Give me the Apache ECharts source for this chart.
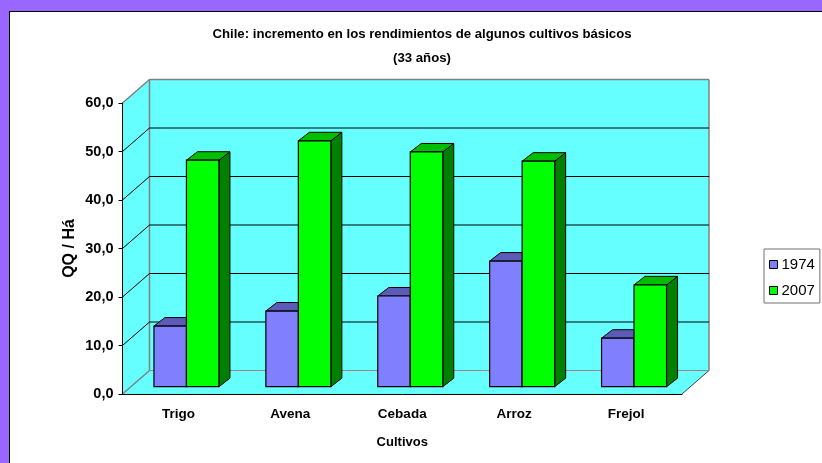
<!DOCTYPE html>
<html>
<head>
<meta charset="utf-8">
<script src="https://cdn.jsdelivr.net/npm/echarts@6/dist/echarts.min.js"></script>
<style>
  html, body { margin: 0; padding: 0; width: 822px; height: 463px; overflow: hidden; background: #9966ff; }
  #frame { position: absolute; left: 9px; top: 11px; right: 0; bottom: 0; background: #fff; border-left: 1px solid #000; border-top: 1px solid #000; }
  #main { position: absolute; left: 0; top: 0; width: 822px; height: 463px; }
</style>
</head>
<body>
<div id="frame"></div>
<div id="main"></div>
<script>
const categories = ['Trigo', 'Avena', 'Cebada', 'Arroz', 'Frejol'];
const values1974 = [12.5, 15.6, 18.7, 25.9, 10.0];
const values2007 = [46.7, 50.7, 48.4, 46.5, 21.0];
const yTicks = [0, 10, 20, 30, 40, 50, 60];

const fontName = '"Liberation Sans", Arial, sans-serif';
// profundidad del grafico 3D, en pixeles
const depthX = 27;
const depthY = 23.5;
const barDepthX = 11;
const barDepthY = 8.5;
const barBaseX = 8;
const barBaseY = 7.3;
const barWidth = 32.5;

const myChart = echarts.init(document.getElementById('main'), null, { renderer: 'canvas' });

function poly(points, fill, stroke, lineWidth) {
  return {
    type: 'polygon',
    shape: { points: points },
    style: { fill: fill, stroke: stroke || null, lineWidth: lineWidth || 0 }
  };
}
function line(x1, y1, x2, y2, color, width) {
  return {
    type: 'line',
    shape: { x1: x1, y1: y1, x2: x2, y2: y2 },
    style: { stroke: color, lineWidth: width }
  };
}

// paredes y piso
function renderWalls(params) {
  const g = params.coordSys;
  const l = g.x, t = g.y, r = g.x + g.width, b = g.y + g.height;
  const wall = '#66ffff';
  return {
    type: 'group',
    children: [
      poly([[l + depthX, t - depthY], [r + depthX, t - depthY], [r + depthX, b - depthY], [l + depthX, b - depthY]], wall),
      poly([[l, t], [l + depthX, t - depthY], [l + depthX, b - depthY], [l, b]], wall),
      poly([[l, b], [l + depthX, b - depthY], [r + depthX, b - depthY], [r, b]], wall),
      line(l + depthX, t - depthY, l + depthX, b - depthY, '#808080', 1.5),
      line(l + depthX, t - depthY, r + depthX, t - depthY, '#808080', 1.5),
      line(r + depthX, t - depthY, r + depthX, b - depthY, '#808080', 1.5),
      line(l, t, l + depthX, t - depthY, '#808080', 1.5),
      line(l, b, l + depthX, b - depthY, '#808080', 1.5),
      line(r, b, r + depthX, b - depthY, '#404040', 1)
    ]
  };
}

// lineas de division en la pared
function renderGridLine(params, api) {
  const g = params.coordSys;
  const v = api.value(0);
  if (v === yTicks[yTicks.length - 1]) return;
  const y = api.coord([0, v])[1];
  const left = g.x, right = g.x + g.width;
  if (v === 0) {
    return line(left + depthX, y - depthY, right + depthX, y - depthY, '#a08484', 1.2);
  }
  return {
    type: 'group',
    children: [
      line(left, y, left + depthX, y - depthY, '#000', 1),
      line(left + depthX, y - depthY, right + depthX, y - depthY, '#000', 1)
    ]
  };
}

function barRenderer(seriesIndex, front, top, side) {
  return function (params, api) {
    const base = api.coord([api.value(0), 0]);
    const head = api.coord([api.value(0), api.value(1)]);
    const x0 = base[0] + barBaseX + (seriesIndex - 1) * barWidth;
    const x1 = x0 + barWidth;
    const yb = base[1] - barBaseY;
    const yt = head[1] - barBaseY;
    const dx = barDepthX, dy = barDepthY;
    return {
      type: 'group',
      children: [
        poly([[x1, yb], [x1 + dx, yb - dy], [x1 + dx, yt - dy], [x1, yt]], side, '#000', 1),
        poly([[x0, yt], [x0 + dx, yt - dy], [x1 + dx, yt - dy], [x1, yt]], top, '#000', 1),
        poly([[x0, yb], [x1, yb], [x1, yt], [x0, yt]], front, '#000', 1.2)
      ]
    };
  };
}

const axisText = { color: '#000', fontFamily: fontName, fontWeight: 'bold', fontSize: 13.5 };

const option = {
  animation: false,
  backgroundColor: 'transparent',
  title: {
    text: 'Chile: incremento en los rendimientos de algunos cultivos básicos\n(33 años)',
    left: 417,
    top: 17,
    textAlign: 'center',
    textStyle: { color: '#000', fontFamily: fontName, fontWeight: 'bold', fontSize: 13.2, lineHeight: 24 }
  },
  legend: {
    data: ['1974', '2007'],
    orient: 'vertical',
    left: 764,
    top: 249,
    padding: [7, 5, 4, 5],
    itemWidth: 8,
    itemHeight: 8,
    itemGap: 9,
    borderColor: '#707070',
    borderWidth: 1,
    backgroundColor: '#fff',
    selectedMode: false,
    icon: 'rect',
    itemStyle: { borderColor: '#000', borderWidth: 1 },
    textStyle: { color: '#000', fontFamily: fontName, fontSize: 15, lineHeight: 17, padding: [0, 0, 0, -1] }
  },
  grid: { left: 122.5, top: 103, width: 559.5, height: 291 },
  xAxis: {
    type: 'category',
    data: categories,
    z: 5,
    name: 'Cultivos',
    nameLocation: 'middle',
    nameGap: 42,
    nameTextStyle: Object.assign({}, axisText, { fontSize: 13 }),
    axisLine: { lineStyle: { color: '#000', width: 1 } },
    axisTick: { length: 4, lineStyle: { color: '#404040' } },
    axisLabel: Object.assign({}, axisText, { margin: 13, fontSize: 13.5 })
  },
  yAxis: {
    type: 'value',
    min: 0,
    max: 60,
    interval: 10,
    z: 5,
    name: 'QQ / Há',
    nameLocation: 'middle',
    nameRotate: 90,
    nameGap: 45,
    nameMoveOverlap: false,
    nameTextStyle: Object.assign({}, axisText, { fontSize: 16 }),
    axisLine: { show: true, lineStyle: { color: '#000', width: 1 } },
    axisTick: { show: true, length: 4, lineStyle: { color: '#000' } },
    splitLine: { show: false },
    axisLabel: Object.assign({}, axisText, {
      margin: 9,
      fontSize: 14.5,
      formatter: function (v) { return v.toFixed(1).replace('.', ','); }
    })
  },
  series: [
    { type: 'custom', name: 'paredes', silent: true, z: 1, clip: false, data: [[0]], renderItem: renderWalls },
    { type: 'custom', name: 'divisiones', silent: true, z: 2, clip: false, data: yTicks.map(function (v) { return [v]; }), encode: { y: 0 }, renderItem: renderGridLine },
    {
      type: 'custom', name: '1974', z: 3, clip: false,
      itemStyle: { color: '#8080ff' },
      data: values1974.map(function (v, i) { return [i, v]; }),
      encode: { x: 0, y: 1 },
      renderItem: barRenderer(0, '#8080ff', '#5c5cb8', '#404080')
    },
    {
      type: 'custom', name: '2007', z: 4, clip: false,
      itemStyle: { color: '#00ff00' },
      data: values2007.map(function (v, i) { return [i, v]; }),
      encode: { x: 0, y: 1 },
      renderItem: barRenderer(1, '#00ff00', '#00bf00', '#008000')
    }
  ]
};
option && myChart.setOption(option, true);
</script>
</body>
</html>
